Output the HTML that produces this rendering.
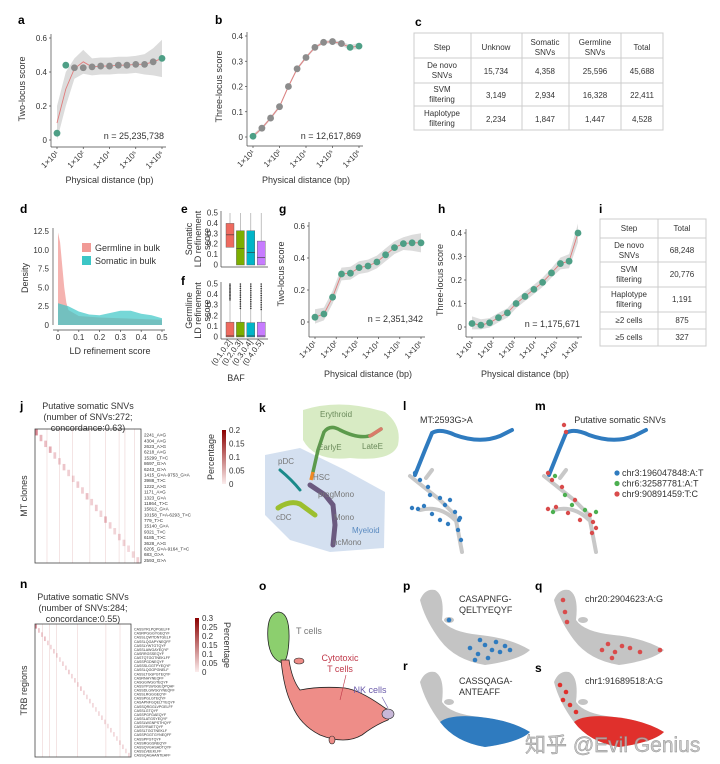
<!DOCTYPE html>
<html><head><meta charset="utf-8">
<style>
html,body{margin:0;padding:0;background:#fff;}
svg{display:block;font-family:"Liberation Sans","Noto Sans CJK SC",sans-serif;}
.t{font-size:8px;fill:#333;}
.ti{font-size:9px;fill:#333;}
.lab{font-size:12px;font-weight:bold;fill:#000;}
</style></head>
<body>
<svg id="fig" width="720" height="764" viewBox="0 0 720 764" xmlns="http://www.w3.org/2000/svg">
<rect width="720" height="764" fill="#fff"/>
<text class="lab" x="18" y="24">a</text>
<text class="lab" x="215" y="24">b</text>
<text class="lab" x="415" y="26">c</text>
<text class="lab" x="20" y="213">d</text>
<text class="lab" x="181" y="213">e</text>
<text class="lab" x="181" y="285">f</text>
<text class="lab" x="279" y="213">g</text>
<text class="lab" x="438" y="213">h</text>
<text class="lab" x="599" y="213">i</text>
<text class="lab" x="20" y="410">j</text>
<text class="lab" x="259" y="412">k</text>
<text class="lab" x="403" y="410">l</text>
<text class="lab" x="535" y="410">m</text>
<text class="lab" x="20" y="588">n</text>
<text class="lab" x="259" y="590">o</text>
<text class="lab" x="403" y="590">p</text>
<text class="lab" x="535" y="590">q</text>
<text class="lab" x="403" y="670">r</text>
<text class="lab" x="535" y="672">s</text>

<g font-size="8" fill="#333" text-anchor="middle">
<rect x="414" y="33" width="249" height="97" fill="#fff" stroke="#ccc"/>
<g stroke="#ccc"><line x1="471" y1="33" x2="471" y2="130"/><line x1="522" y1="33" x2="522" y2="130"/><line x1="569" y1="33" x2="569" y2="130"/><line x1="621" y1="33" x2="621" y2="130"/>
<line x1="414" y1="58" x2="663" y2="58"/><line x1="414" y1="83" x2="663" y2="83"/><line x1="414" y1="106" x2="663" y2="106"/></g>
<text x="442" y="50">Step</text><text x="496" y="50">Unknow</text><text x="545" y="45">Somatic</text><text x="545" y="55">SNVs</text><text x="595" y="45">Germline</text><text x="595" y="55">SNVs</text><text x="642" y="50">Total</text>
<text x="442" y="68">De novo</text><text x="442" y="78">SNVs</text><text x="496" y="74">15,734</text><text x="545" y="74">4,358</text><text x="595" y="74">25,596</text><text x="642" y="74">45,688</text>
<text x="442" y="92">SVM</text><text x="442" y="102">filtering</text><text x="496" y="98">3,149</text><text x="545" y="98">2,934</text><text x="595" y="98">16,328</text><text x="642" y="98">22,411</text>
<text x="442" y="116">Haplotype</text><text x="442" y="126">filtering</text><text x="496" y="122">2,234</text><text x="545" y="122">1,847</text><text x="595" y="122">1,447</text><text x="642" y="122">4,528</text>
</g>

<g font-size="8" fill="#333" text-anchor="middle">
<rect x="600" y="219" width="106" height="127" fill="#fff" stroke="#ccc"/>
<g stroke="#ccc"><line x1="658" y1="219" x2="658" y2="346"/><line x1="600" y1="238" x2="706" y2="238"/><line x1="600" y1="262" x2="706" y2="262"/><line x1="600" y1="287" x2="706" y2="287"/><line x1="600" y1="312" x2="706" y2="312"/><line x1="600" y1="329" x2="706" y2="329"/></g>
<text x="629" y="231">Step</text><text x="682" y="231">Total</text>
<text x="629" y="248">De novo</text><text x="629" y="258">SNVs</text><text x="682" y="253">68,248</text>
<text x="629" y="272">SVM</text><text x="629" y="282">filtering</text><text x="682" y="277">20,776</text>
<text x="629" y="297">Haplotype</text><text x="629" y="307">filtering</text><text x="682" y="302">1,191</text>
<text x="629" y="323">≥2 cells</text><text x="682" y="323">875</text>
<text x="629" y="340">≥5 cells</text><text x="682" y="340">327</text>
</g>

<g id="charts"></g>
<g id="umaps"></g>

<text x="525" y="752" font-size="21" fill="#bbb" fill-opacity="0.8" stroke="#888" stroke-width="0.4">知乎 @Evil Genius</text>
</svg>

<script>
const aExp=[1,1.42,1.83,2.25,2.67,3.08,3.5,3.92,4.33,4.75,5.17,5.58,6];
const aVals=[0.04,0.44,0.425,0.425,0.43,0.435,0.435,0.44,0.44,0.445,0.445,0.46,0.48];
const aFit=[0.1,0.3,0.42,0.46,0.43,0.435,0.435,0.44,0.44,0.445,0.445,0.46,0.48];
const aBand=[0.1,0.1,0.06,0.07,0.05,0.05,0.05,0.05,0.05,0.05,0.06,0.08,0.11];
const aCol=['g','g','k','k','k','k','k','k','k','k','k','k','g'];
const bVals=[0.003,0.035,0.075,0.12,0.2,0.27,0.315,0.355,0.375,0.378,0.37,0.355,0.36];
const bBand=[0.008,0.006,0.006,0.006,0.006,0.006,0.006,0.006,0.006,0.006,0.008,0.01,0.012];
const bCol=['g','k','k','k','k','k','k','k','k','k','k','g','g'];
const gVals=[0.03,0.05,0.155,0.30,0.305,0.34,0.35,0.375,0.42,0.465,0.49,0.495,0.495];
const gBand=[0.05,0.04,0.04,0.04,0.04,0.04,0.04,0.04,0.04,0.04,0.04,0.05,0.06];
const hVals=[0.015,0.008,0.018,0.04,0.06,0.10,0.13,0.16,0.19,0.23,0.27,0.28,0.40];
const hBand=[0.03,0.025,0.02,0.02,0.02,0.02,0.02,0.02,0.02,0.02,0.025,0.03,0.04];
const aYTicks=[0,0.2,0.4,0.6];
const bYTicks=[0,0.1,0.2,0.3,0.4];
const gYTicks=[0,0.2,0.4,0.6];
const hYTicks=[0,0.1,0.2,0.3,0.4];
const abTickExp=[1,2.25,3.5,4.75,6];
const abTickLab=['1×10¹','1×10²','1×10⁴','1×10⁵','1×10⁶'];
const ghTickExp=[1,2,3,4,5,6];
const ghTickLab=['1×10¹','1×10²','1×10³','1×10⁴','1×10⁵','1×10⁶'];
const germX=[0,0.01,0.02,0.03,0.04,0.05,0.1,0.2,0.3,0.4,0.5];
const germY=[12.3,11,8,5,3,2,1.2,1.0,0.9,0.8,0.7];
const somX=[0,0.05,0.1,0.15,0.2,0.25,0.3,0.35,0.4,0.45,0.5];
const somY=[2.9,2.5,1.8,1.4,1.3,1.6,1.9,1.9,1.5,1.3,0.9];
const dYTicks=[0,2.5,5,7.5,10,12.5];
const dYLab=['0','2.5','5.0','7.5','10.0','12.5'];
const dXTicks=[0,0.1,0.2,0.3,0.4,0.5];
const bafCats=['(0.1,0.2]','(0.2,0.3]','(0.3,0.4]','(0.4,0.5]'];
const eQ1=[0.17,0.0,0.0,0.0];
const eMed=[0.29,0.16,0.12,0.07];
const eQ3=[0.40,0.33,0.33,0.23];
const eMax=[0.5,0.5,0.5,0.5];
const fQ1=[0.0,0.0,0.0,0.0];
const fMed=[0.01,0.01,0.01,0.01];
const fQ3=[0.14,0.14,0.135,0.14];
const fOutLo=[0.35,0.27,0.27,0.26];
const boxYTicks=[0,0.1,0.2,0.3,0.4,0.5];
const jLabels=['2241_A>G','4304_A>G','2623_A>G','6218_A>G','15299_T>C','8697_G>A','6243_G>A','1415_G>A-9753_G>A','3988_T>C','1222_A>G','1171_A>G','1323_G>A','11864_T>C','15812_G>A','10158_T>A-6293_T>C','779_T>C','15140_G>A','9321_T>C','6185_T>C','3628_A>G','6205_G>A-9164_T>C','683_G>A','2593_G>A'];
const jDiag=[0.2,0.1,0.08,0.12,0.06,0.05,0.07,0.05,0.04,0.06,0.05,0.08,0.05,0.06,0.04,0.09,0.05,0.04,0.05,0.04,0.03,0.04,0.05];
const jStreakCols=[30,62,95,140,180,215,230,255];
const nLabels=['CASSYRLPQPGELFF','CASRPGGGYGEQYF','CASSLQWTDNTGELF','CASSLQGAPYNEQFF','CASSLYWTGTQYF','CASSLAWGAYEQYF','CASRRGSSEQYF','CASTQTGGTNEKLFF','CASSPGDNEQYF','CASSSLGGTPYEQYF','CASSLQGGPGNELF','CASSLTGGPGTEQYF','CASRNHYNEQFF','CASGGWGGTEQYF','CASSYPLWGGEQPQHF','CASSDLGWGGYNEQFF','CASSLRGGGEQYF','CASSPGLGTEQYF','CASAPNFGQELTYEQYF','CASSQRGGLVPGELFF','CASSLGTQYF','CASSPGFGAEQYF','CASSLATGSYEQYF','CASSLWGNPSTHQYF','CASSYRAETQYF','CASSLTGGTNEKLF','CASSPGGTGYNEQFF','CASSPPGTQYF','CASSRGGSNEQYF','CASSQVGHSADTQYF','CASSLVEEKLFF','CASSQAGAANTEAFF'];
const nDiag=[0.3,0.1,0.08,0.12,0.06,0.05,0.07,0.05,0.04,0.06,0.05,0.08,0.05,0.06,0.04,0.09,0.05,0.04,0.05,0.04,0.03,0.04,0.05,0.04,0.03,0.05,0.04,0.03,0.04,0.05,0.03,0.04];
const nStreakCols=[20,40,60,120,200,240];

const NS='http://www.w3.org/2000/svg';
const root=document.getElementById('charts');
function mk(tag,attrs,parent){const e=document.createElementNS(NS,tag);for(const k in attrs)e.setAttribute(k,attrs[k]);(parent||root).appendChild(e);return e;}
function txt(s,attrs,parent){const e=mk('text',attrs,parent);e.textContent=s;return e;}

function locus(id,p,vals,fit,band,cols,yTicks,tExp,tLab,ytitle,nText){
  const g=mk('g',{});
  
  
  const sx=e=>p.x0+(e-1)/5*(p.x1-p.x0);
  const sy=v=>p.ybot-v/p.ymax*(p.ybot-p.ytop);
  let up='',lo='';
  for(let i=0;i<aExp.length;i++){up+=sx(aExp[i])+','+sy(fit[i]+band[i])+' ';}
  for(let i=aExp.length-1;i>=0;i--){lo+=sx(aExp[i])+','+sy(Math.max(fit[i]-band[i],-0.01))+' ';}
  const rib=mk('polygon',{points:up+lo,fill:'#dcdcdc'},g);
  
  
  let pl='';for(let i=0;i<aExp.length;i++)pl+=sx(aExp[i])+','+sy(fit[i])+' ';
  const ln=mk('polyline',{points:pl,fill:'none',stroke:'#e07a7a','stroke-width':0.9},g);
  
  
  for(let i=0;i<vals.length;i++){
    const c=mk('circle',{cx:sx(aExp[i]),cy:sy(vals[i]),r:3.4,fill:cols[i]==='g'?'#4e9f86':'#8c8c8c'},g);
    
    
  }
  mk('line',{x1:p.ax,y1:p.ytop-4,x2:p.ax,y2:p.axY,stroke:'#444','stroke-width':0.7},g);
  mk('line',{x1:p.ax,y1:p.axY,x2:p.x1+4,y2:p.axY,stroke:'#444','stroke-width':0.7},g);
  yTicks.forEach(v=>{
    mk('line',{x1:p.ax-2,y1:sy(v),x2:p.ax,y2:sy(v),stroke:'#444','stroke-width':0.7},g);
    const t=txt(String(v),{x:p.ax-4,y:sy(v)+3,'text-anchor':'end',class:'t'},g);
    
    
  });
  tExp.forEach((e,i)=>{
    mk('line',{x1:sx(e),y1:p.axY,x2:sx(e),y2:p.axY+2,stroke:'#444','stroke-width':0.7},g);
    const t=txt(tLab[i],{x:sx(e)+2,y:p.axY+7,'text-anchor':'end',class:'t','font-size':'7',transform:'rotate(-45 '+(sx(e)+2)+' '+(p.axY+7)+')'},g);
    
    
  });
  const yt=txt(ytitle,{x:p.ylx,y:(p.ytop+p.ybot)/2,'text-anchor':'middle',class:'ti',transform:'rotate(-90 '+p.ylx+' '+((p.ytop+p.ybot)/2)+')'},g);
  
  
  const xt=txt('Physical distance (bp)',{x:(p.x0+p.x1)/2,y:p.xty,'text-anchor':'middle',class:'ti'},g);
  
  
  const nt=txt(nText,{x:p.x1+2,y:p.ny,'text-anchor':'end',class:'ti'},g);
  
  
}
locus('a',{x0:57,x1:162,ax:51,ytop:38,ybot:140,ymax:0.6,axY:147,ylx:25,xty:183,ny:139},aVals,aFit,aBand,aCol,aYTicks,abTickExp,abTickLab,'Two-locus score','n = 25,235,738');
locus('b',{x0:253,x1:359,ax:247,ytop:36,ybot:137,ymax:0.4,axY:146,ylx:222,xty:183,ny:139},bVals,bVals,bBand,bCol,bYTicks,abTickExp,abTickLab,'Three-locus score','n = 12,617,869');
const gc=gVals.map(()=> 'g');
locus('g',{x0:315,x1:421,ax:309,ytop:226,ybot:322,ymax:0.6,axY:337,ylx:284,xty:377,ny:322},gVals,gVals,gBand,gc,gYTicks,ghTickExp,ghTickLab,'Two-locus score','n = 2,351,342');
locus('h',{x0:472,x1:578,ax:466,ytop:233,ybot:327,ymax:0.4,axY:337,ylx:443,xty:377,ny:327},hVals,hVals,hBand,gc,hYTicks,ghTickExp,ghTickLab,'Three-locus score','n = 1,175,671');

(function(){
  const g=mk('g',{});
  
  
  const x0=58,x1=162,yb=325,yt=231;
  const sx=v=>x0+v/0.5*(x1-x0), sy=v=>yb-v/12.5*(yb-yt);
  function area(xs,ys,fill,op,name){
    let pts=sx(xs[0])+','+sy(0)+' ';
    xs.forEach((x,i)=>pts+=sx(x)+','+sy(ys[i])+' ');
    pts+=sx(xs[xs.length-1])+','+sy(0);
    const a=mk('polygon',{points:pts,fill:fill,'fill-opacity':op},g);
    
    
  }
  area(germX,germY,'#f19a96',0.75,'germline-density-area');
  area(somX,somY,'#3cc6c6',0.7,'somatic-density-area');
  mk('line',{x1:53,y1:yt-3,x2:53,y2:yb,stroke:'#444','stroke-width':0.7},g);
  mk('line',{x1:53,y1:330,x2:x1+3,y2:330,stroke:'#444','stroke-width':0.7},g);
  dYTicks.forEach((v,i)=>{
    const t=txt(dYLab[i],{x:49,y:sy(v)+3,'text-anchor':'end',class:'t'},g);
    
    
  });
  dXTicks.forEach(v=>{
    mk('line',{x1:sx(v),y1:330,x2:sx(v),y2:332,stroke:'#444','stroke-width':0.7},g);
    const t=txt(String(v),{x:sx(v),y:340,'text-anchor':'middle',class:'t'},g);
    
    
  });
  const yt2=txt('Density',{x:28,y:278,'text-anchor':'middle',class:'ti',transform:'rotate(-90 28 278)'},g);
  
  
  const xt=txt('LD refinement score',{x:110,y:354,'text-anchor':'middle',class:'ti'},g);
  
  
  const l1=mk('rect',{x:82,y:243,width:9,height:9,fill:'#f19a96'},g);
  
  
  const l2=mk('rect',{x:82,y:256,width:9,height:9,fill:'#3cc6c6'},g);
  
  
  const lt1=txt('Germline in bulk',{x:95,y:251,class:'ti'},g);
  
  
  const lt2=txt('Somatic in bulk',{x:95,y:264,class:'ti'},g);
  
  
})();

const boxColors=['#ee6a5f','#7cae00','#00b5c8','#c77cff'];
function boxes(id,ytop,ybot,q1,med,q3,mx,outLo,title1){
  const g=mk('g',{});
  
  
  const sy=v=>ybot-v/0.5*(ybot-ytop);
  const cx=i=>230+i*10.4;
  mk('line',{x1:221,y1:ytop-2,x2:221,y2:ybot+2,stroke:'#444','stroke-width':0.7},g);
  mk('line',{x1:221,y1:ybot+2,x2:268,y2:ybot+2,stroke:'#444','stroke-width':0.7},g);
  boxYTicks.forEach(v=>{
    const t=txt(String(v),{x:218,y:sy(v)+2.5,'text-anchor':'end',class:'t','font-size':'7.5'},g);
    
    
  });
  for(let i=0;i<4;i++){
    mk('line',{x1:cx(i),y1:sy(mx[i]),x2:cx(i),y2:sy(q3[i]),stroke:'#999','stroke-width':0.6},g);
    if(outLo){for(let k=0;k<12;k++){const v=outLo[i]+(0.5-outLo[i])*k/11;mk('circle',{cx:cx(i),cy:sy(v),r:0.8,fill:'#333'},g);}}
    const b=mk('rect',{x:cx(i)-4,y:sy(q3[i]),width:8,height:sy(q1[i])-sy(q3[i]),fill:boxColors[i],stroke:'#555','stroke-width':0.4},g);
    
    
    mk('line',{x1:cx(i)-4,y1:sy(med[i]),x2:cx(i)+4,y2:sy(med[i]),stroke:'#333','stroke-width':0.6},g);
  }
  const yc=(ytop+ybot)/2;
  const t1=txt(title1,{x:192,y:yc,'text-anchor':'middle',class:'ti','font-size':'8.5',transform:'rotate(-90 192 '+yc+')'},g);
  
  
  txt('LD refinement',{x:201,y:yc,'text-anchor':'middle',class:'ti','font-size':'8.5',transform:'rotate(-90 201 '+yc+')'},g);
  txt('score',{x:210,y:yc,'text-anchor':'middle',class:'ti','font-size':'8.5',transform:'rotate(-90 210 '+yc+')'},g);
}
boxes('e',213,265,eQ1,eMed,eQ3,eMax,null,'Somatic');
boxes('f',284,337,fQ1,fMed,fQ3,[0.5,0.5,0.5,0.5],fOutLo,'Germline');
bafCats.forEach((c,i)=>{
  const x=232+i*10.4,y=342;
  const t=txt(c,{x:x,y:y,'text-anchor':'end',class:'t','font-size':'7',transform:'rotate(-55 '+x+' '+y+')'});
  
  
});
const baf=txt('BAF',{x:236,y:381,'text-anchor':'middle',class:'ti'});



function heat(id,x0,y0,w,h,diag,streaks,labels,lfs,maxv,titleY,titleLines,ylab,cb){
  const g=mk('g',{});
  
  
  mk('rect',{x:x0,y:y0,width:w,height:h,fill:'#fff'},g);
  streaks.forEach(c=>{mk('rect',{x:x0+c/272*w,y:y0,width:0.6,height:h,fill:'#ecd2d2'},g);});
  const n=diag.length;
  for(let i=0;i<n;i++){
    const c=mk('rect',{x:x0+i/n*w,y:y0+i/n*h,width:w/n*0.6,height:h/n*1.1,fill:'#c0394a','fill-opacity':Math.min(1,diag[i]/maxv*0.5+0.12)},g);
    
    
  }
  mk('rect',{x:x0,y:y0,width:w,height:h,fill:'none',stroke:'#444','stroke-width':0.8},g);
  labels.forEach((l,i)=>{
    const t=txt(l,{x:x0+w+3,y:y0+3+i*(h-3)/labels.length+lfs,'font-size':lfs,fill:'#333'},g);
    
    
  });
  titleLines.forEach((s,i)=>{
    const t=txt(s,{x:x0+w/2,y:titleY+i*11,'text-anchor':'middle',class:'ti'},g);
    
    
  });
  const yl=txt(ylab,{x:27,y:y0+h/2,'text-anchor':'middle',class:'ti',transform:'rotate(-90 27 '+(y0+h/2)+')'},g);
  
  
  const gr=mk('linearGradient',{id:id+'grad',x1:0,y1:0,x2:0,y2:1},g);
  mk('stop',{offset:0,'stop-color':'#8b0000'},gr);mk('stop',{offset:1,'stop-color':'#fbecec'},gr);
  const bar=mk('rect',{x:cb.x,y:cb.y,width:4,height:cb.h,fill:'url(#'+id+'grad)'},g);
  
  
  cb.ticks.forEach((t,i)=>{
    const e=txt(t,{x:cb.x+7,y:cb.y+3+i*cb.h/(cb.ticks.length-1),class:'t'},g);
    
    
  });
  const px=cb.px,py=cb.y+cb.h/2;
  const pt=txt('Percentage',{x:px,y:py,'text-anchor':'middle',class:'ti',transform:'rotate('+cb.rot+' '+px+' '+py+')'},g);
  
  
}
heat('j',35,429,106,134,jDiag,jStreakCols,jLabels,4.6,0.2,409,['Putative somatic SNVs','(number of SNVs:272;','concordance:0.63)'],'MT clones',{x:222,y:430,h:54,ticks:['0.2','0.15','0.1','0.05','0'],px:214,rot:-90});
heat('n',35,624,96,133,nDiag,nStreakCols,nLabels,3.6,0.3,600,['Putative somatic SNVs','(number of SNVs:284;','concordance:0.55)'],'TRB regions',{x:195,y:618,h:54,ticks:['0.3','0.25','0.2','0.15','0.1','0.05','0'],px:224,rot:90});

const U=document.getElementById('umaps');
function up(tag,attrs){return mk(tag,attrs,U);}
let e;
e=up('path',{d:'M265,455 L300,448 L345,470 L385,492 L384,548 L330,552 L290,540 L265,515 Z',fill:'#c9d8ec','fill-opacity':0.8});


e=up('path',{d:'M303,410 Q340,398 385,412 Q402,425 398,445 Q392,462 350,458 Q315,462 303,440 Z',fill:'#d8ebc4'});


e=up('path',{d:'M313,472 L318,450 L324,432 Q330,424 340,430 Q360,440 372,435 L381,429',fill:'none',stroke:'#5c9a4c','stroke-width':3.5,'stroke-linecap':'round'});


up('path',{d:'M370,436 L381,429',fill:'none',stroke:'#d97b6a','stroke-width':3.5,'stroke-linecap':'round'});
up('path',{d:'M313,472 L311,480',fill:'none',stroke:'#f08a24','stroke-width':3.5});
e=up('path',{d:'M280,470 Q292,480 300,490',fill:'none',stroke:'#1b8a8a','stroke-width':3,'stroke-linecap':'round'});


e=up('path',{d:'M278,508 Q290,500 300,504 L315,515',fill:'none',stroke:'#9cbf2e','stroke-width':5,'stroke-linecap':'round'});


e=up('path',{d:'M310,485 L325,495 L333,505 L335,525 L333,545',fill:'none',stroke:'#6b5a80','stroke-width':5,'stroke-linecap':'round'});


const kl=[['Erythroid',320,417,'#6a8a5a'],['EarlyE',318,450,'#6a8a5a'],['LateE',362,449,'#6a8a5a'],['pDC',278,464,'#777'],['HSC',313,480,'#777'],['progMono',318,497,'#777'],['cDC',276,520,'#777'],['Mono',334,520,'#777'],['Myeloid',352,533,'#5a8ac0'],['ncMono',333,545,'#777']];
kl.forEach(l=>{const t=txt(l[0],{x:l[1],y:l[2],'font-size':8,fill:l[3]},U);});
function traj(dx,color,name){
  const g=mk('g',{},U);
  
  
  const d='M'+(415+dx)+',475 L'+(425+dx)+',450 L'+(432+dx)+',433 Q'+(440+dx)+',428 '+(455+dx)+',435 Q'+(480+dx)+',444 '+(500+dx)+',436 L'+(512+dx)+',430';
  mk('path',{d:d,fill:'none',stroke:color,'stroke-width':4,'stroke-linecap':'round'},g);
  mk('path',{d:'M'+(410+dx)+',476 L'+(440+dx)+',500 L'+(455+dx)+',515 L'+(462+dx)+',552 M'+(420+dx)+',510 Q'+(440+dx)+',505 '+(455+dx)+',520 M'+(426+dx)+',478 L'+(432+dx)+',470',fill:'none',stroke:'#c8c8c8','stroke-width':4,'stroke-linecap':'round'},g);
}
traj(0,'#2f7bbf','trajectory-l');
traj(134,'#2f7bbf','trajectory-m');
const lDots=[[415,473],[420,480],[428,487],[440,498],[445,505],[455,512],[459,520],[458,530],[461,540],[412,508],[418,509],[424,506],[432,514],[440,520],[448,524],[430,495],[450,500],[460,518]];
lDots.forEach(p=>{const c=up('circle',{cx:p[0],cy:p[1],r:2.2,fill:'#2f7bbf'});});
const mRed=[[548,473],[552,480],[562,487],[575,500],[590,515],[593,522],[596,528],[592,533],[548,509],[556,507],[568,513],[580,520],[564,425],[566,432]];
const mGreen=[[555,476],[565,495],[553,512],[572,505],[585,510],[596,512]];
mRed.forEach(p=>{const c=up('circle',{cx:p[0],cy:p[1],r:2.2,fill:'#d94b4b'});});
mGreen.forEach(p=>{const c=up('circle',{cx:p[0],cy:p[1],r:2.2,fill:'#4caf50'});});
e=txt('MT:2593G>A',{x:420,y:423,class:'ti'},U);
e=txt('Putative somatic SNVs',{x:620,y:423,'text-anchor':'middle',class:'ti'},U);
const legM=[['chr3:196047848:A:T','#2f7bbf'],['chr6:32587781:A:T','#4caf50'],['chr9:90891459:T:C','#d94b4b']];
legM.forEach((l,i)=>{
  const c=up('circle',{cx:617,cy:473+i*10.5,r:2.6,fill:l[1]});
  
  
  const t=txt(l[0],{x:622,y:476+i*10.5,class:'ti','font-size':'8.5'},U);
  
  
});
e=up('path',{d:'M283,663 Q270,660 268,640 Q266,614 278,612 Q290,612 289,640 Q288,660 283,663 Z',fill:'#8ccf6e',stroke:'#222','stroke-width':0.8});


e=up('path',{d:'M281,660 Q284,690 292,705 Q300,725 320,735 Q345,745 362,735 Q375,725 388,720 Q395,712 385,708 Q360,690 345,688 Q320,686 300,690 Q292,680 289,660 Z',fill:'#ee8d88',stroke:'#222','stroke-width':0.8});


e=up('ellipse',{cx:388,cy:714,rx:6,ry:5,fill:'#c8b8d8',stroke:'#222','stroke-width':0.6});


up('ellipse',{cx:299,cy:661,rx:5,ry:3,fill:'#ee8d88',stroke:'#222','stroke-width':0.6});
up('ellipse',{cx:332,cy:740,rx:3,ry:4,fill:'#ee8d88',stroke:'#222','stroke-width':0.6});
e=txt('T cells',{x:296,y:634,'font-size':9,fill:'#777'},U);
e=txt('Cytotoxic',{x:340,y:661,'text-anchor':'middle','font-size':9,fill:'#c0394a'},U);
txt('T cells',{x:340,y:672,'text-anchor':'middle','font-size':9,fill:'#c0394a'},U);
up('line',{x1:346,y1:675,x2:340,y2:700,stroke:'#c0394a','stroke-width':0.6});
e=txt('NK cells',{x:370,y:693,'text-anchor':'middle','font-size':9,fill:'#6a5aaa'},U);
up('line',{x1:382,y1:697,x2:388,y2:708,stroke:'#6a5aaa','stroke-width':0.6});
function miniU(dx,dy,name){
  const g=mk('g',{},U);
  
  
  mk('path',{d:'M'+(420+dx)+','+(600+dy)+' Q'+(425+dx)+','+(588+dy)+' '+(435+dx)+','+(590+dy)+' Q'+(445+dx)+','+(595+dy)+' '+(442+dx)+','+(620+dy)+' Q'+(450+dx)+','+(632+dy)+' '+(480+dx)+','+(635+dy)+' Q'+(510+dx)+','+(638+dy)+' '+(530+dx)+','+(650+dy)+' Q'+(520+dx)+','+(660+dy)+' '+(485+dx)+','+(665+dy)+' Q'+(455+dx)+','+(660+dy)+' '+(440+dx)+','+(640+dy)+' Q'+(425+dx)+','+(620+dy)+' '+(420+dx)+','+(600+dy)+' Z',fill:'#c4c4c4'},g);
  mk('ellipse',{cx:449+dx,cy:620+dy,rx:5,ry:3,fill:'#c4c4c4'},g);
  return g;
}
miniU(0,0,'umap-p');miniU(134,0,'umap-q');
const gr=miniU(0,82,'umap-r');
mk('path',{d:'M440,722 Q450,714 480,717 Q510,720 530,732 Q520,742 485,747 Q455,742 440,722 Z',fill:'#2f7bbf'},gr);
const gs=miniU(134,82,'umap-s');
mk('path',{d:'M574,722 Q584,714 614,717 Q644,720 664,732 Q654,742 619,747 Q589,742 574,722 Z',fill:'#e0302c'},gs);
const pDots=[[470,648],[478,654],[485,645],[492,650],[500,652],[505,646],[488,658],[475,660],[496,642],[510,650],[480,640],[449,620]];
pDots.forEach(p=>{const c=up('circle',{cx:p[0],cy:p[1],r:2.3,fill:'#2f7bbf'});});
const qDots=[[563,600],[565,612],[567,622],[602,650],[608,644],[615,652],[622,646],[630,648],[640,652],[612,658],[660,650]];
qDots.forEach(p=>{const c=up('circle',{cx:p[0],cy:p[1],r:2.3,fill:'#d94b4b'});});
const sDots=[[560,685],[566,692],[563,700],[570,705],[576,712]];
sDots.forEach(p=>{const c=up('circle',{cx:p[0],cy:p[1],r:2.3,fill:'#e0302c'});});
e=txt('CASAPNFG-',{x:459,y:602,class:'ti'},U);
txt('QELTYEQYF',{x:459,y:613,class:'ti'},U);
e=txt('chr20:2904623:A:G',{x:585,y:602,class:'ti'},U);
e=txt('CASSQAGA-',{x:459,y:684,class:'ti'},U);
txt('ANTEAFF',{x:459,y:695,class:'ti'},U);
e=txt('chr1:91689518:A:G',{x:585,y:684,class:'ti'},U);
</script>
</body></html>
